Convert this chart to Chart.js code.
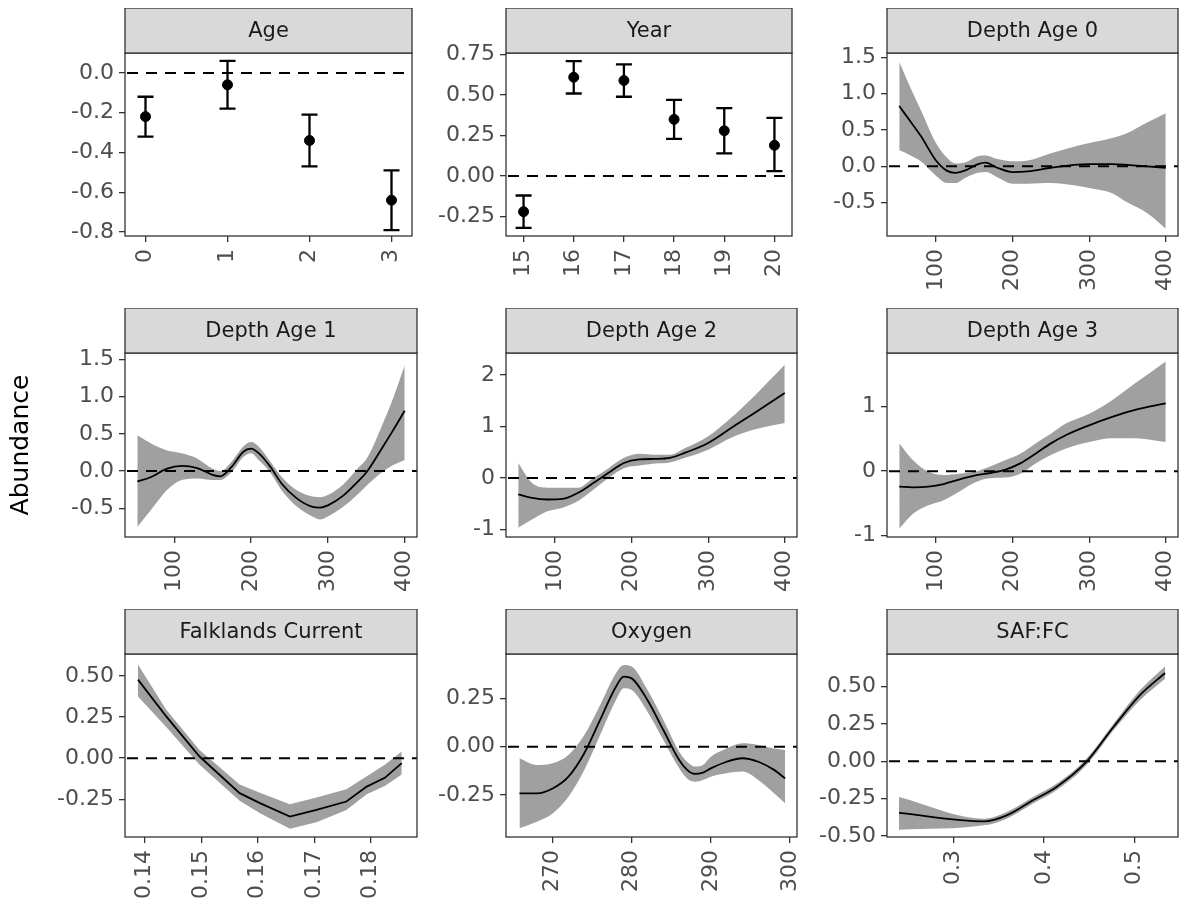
<!DOCTYPE html>
<html>
<head>
<meta charset="utf-8">
<script src="https://cdn.jsdelivr.net/npm/chart.js@4.4.1/dist/chart.umd.min.js"></script>
<style>
  body { margin: 0; background: #fff; width: 1179px; height: 906px; position: relative; overflow: hidden; }
  canvas { position: absolute; }
</style>
</head>
<body>
<script>
// ---- data ----
const ageX = [0, 1, 2, 3];
const ageEst = [-0.22, -0.06, -0.34, -0.64];
const ageLo = [-0.32, -0.18, -0.47, -0.79];
const ageHi = [-0.12, 0.06, -0.21, -0.49];

const yearX = [15, 16, 17, 18, 19, 20];
const yearEst = [-0.22, 0.61, 0.59, 0.35, 0.28, 0.19];
const yearLo = [-0.32, 0.51, 0.49, 0.23, 0.14, 0.03];
const yearHi = [-0.12, 0.71, 0.69, 0.47, 0.42, 0.36];

const depth0X = [52, 65, 80, 100, 114, 125, 140, 155, 165, 180, 200, 220, 250, 280, 300, 330, 350, 375, 400];
const depth0Fit = [0.83, 0.64, 0.42, 0.08, -0.06, -0.09, -0.05, 0.03, 0.05, -0.02, -0.08, -0.07, -0.02, 0.02, 0.03, 0.03, 0.02, 0.0, -0.02];
const depth0Hi = [1.44, 1.12, 0.78, 0.32, 0.12, 0.04, 0.06, 0.14, 0.15, 0.1, 0.07, 0.08, 0.18, 0.27, 0.32, 0.39, 0.46, 0.6, 0.73];
const depth0Lo = [0.22, 0.16, 0.07, -0.13, -0.23, -0.23, -0.15, -0.09, -0.08, -0.15, -0.24, -0.24, -0.23, -0.26, -0.3, -0.37, -0.5, -0.64, -0.86];

const depth1X = [52, 70, 90, 110, 130, 150, 160, 175, 190, 200, 210, 225, 240, 260, 280, 290, 300, 320, 340, 350, 370, 385, 400];
const depth1Fit = [-0.14, -0.08, 0.03, 0.07, 0.04, -0.05, -0.07, 0.06, 0.26, 0.3, 0.24, 0.06, -0.17, -0.37, -0.48, -0.49, -0.46, -0.33, -0.13, -0.02, 0.3, 0.55, 0.81];
const depth1Hi = [0.48, 0.37, 0.28, 0.24, 0.17, 0.03, 0.0, 0.13, 0.33, 0.39, 0.33, 0.13, -0.08, -0.26, -0.34, -0.35, -0.32, -0.18, 0.05, 0.16, 0.6, 0.98, 1.42];
const depth1Lo = [-0.75, -0.52, -0.26, -0.12, -0.1, -0.12, -0.12, -0.01, 0.19, 0.24, 0.15, -0.02, -0.26, -0.48, -0.61, -0.65, -0.61, -0.48, -0.3, -0.2, -0.02, 0.08, 0.15];

const depth2X = [52, 70, 90, 110, 130, 150, 170, 190, 210, 230, 250, 270, 300, 330, 360, 400];
const depth2Fit = [-0.32, -0.39, -0.42, -0.41, -0.29, -0.1, 0.1, 0.29, 0.36, 0.37, 0.39, 0.49, 0.68, 0.97, 1.26, 1.65];
const depth2Hi = [0.29, -0.1, -0.19, -0.19, -0.19, 0.0, 0.19, 0.39, 0.47, 0.45, 0.45, 0.58, 0.81, 1.17, 1.59, 2.2];
const depth2Lo = [-0.97, -0.81, -0.65, -0.58, -0.45, -0.23, 0.0, 0.19, 0.24, 0.28, 0.3, 0.39, 0.55, 0.78, 0.94, 1.07];

const depth3X = [52, 70, 90, 110, 130, 150, 170, 190, 210, 230, 250, 270, 300, 330, 360, 400];
const depth3Fit = [-0.24, -0.25, -0.24, -0.2, -0.13, -0.07, -0.03, 0.02, 0.12, 0.27, 0.43, 0.56, 0.71, 0.84, 0.95, 1.05];
const depth3Hi = [0.43, 0.17, -0.01, -0.06, -0.04, -0.01, 0.07, 0.17, 0.27, 0.43, 0.58, 0.74, 0.89, 1.1, 1.36, 1.7];
const depth3Lo = [-0.89, -0.66, -0.53, -0.45, -0.32, -0.18, -0.11, -0.1, -0.04, 0.12, 0.25, 0.35, 0.45, 0.51, 0.51, 0.45];

const fcX = [0.1388, 0.1438, 0.1497, 0.1568, 0.1604, 0.1657, 0.1704, 0.1757, 0.1793, 0.1825, 0.1855];
const fcFit = [0.478, 0.254, 0.01, -0.213, -0.274, -0.356, -0.315, -0.264, -0.173, -0.12, -0.03];
const fcHi = [0.57, 0.295, 0.05, -0.16, -0.21, -0.28, -0.24, -0.19, -0.11, -0.04, 0.04];
const fcLo = [0.376, 0.19, -0.04, -0.26, -0.335, -0.43, -0.39, -0.315, -0.22, -0.17, -0.1];

const oxyX = [265.8, 268, 270, 272, 274, 276, 278, 279, 280, 282, 284, 286, 287, 288, 289, 290, 292, 294, 296, 298, 299.4];
const oxyFit = [-0.241, -0.241, -0.216, -0.155, -0.034, 0.138, 0.31, 0.362, 0.353, 0.24, 0.086, -0.069, -0.12, -0.141, -0.134, -0.112, -0.078, -0.06, -0.078, -0.12, -0.164];
const oxyHi = [-0.06, -0.095, -0.086, -0.043, 0.06, 0.216, 0.38, 0.422, 0.414, 0.293, 0.138, -0.026, -0.078, -0.103, -0.095, -0.052, -0.009, 0.017, 0.009, -0.009, -0.017];
const oxyLo = [-0.422, -0.388, -0.345, -0.259, -0.121, 0.06, 0.24, 0.302, 0.293, 0.181, 0.034, -0.112, -0.164, -0.181, -0.172, -0.155, -0.138, -0.129, -0.172, -0.241, -0.293];

const safX = [0.24, 0.334, 0.359, 0.388, 0.414, 0.447, 0.477, 0.506, 0.534];
const safFit = [-0.346, -0.402, -0.362, -0.261, -0.172, -0.004, 0.23, 0.442, 0.592];
const safHi = [-0.239, -0.384, -0.339, -0.239, -0.15, 0.018, 0.252, 0.475, 0.636];
const safLo = [-0.458, -0.429, -0.384, -0.283, -0.194, -0.027, 0.208, 0.408, 0.554];

// tick labels
const ageXTicks = [0, 1, 2, 3];
const ageYTicks = [-0.8, -0.6, -0.4, -0.2, 0];
const yearXTicks = [15, 16, 17, 18, 19, 20];
const yearYTicks = [-0.25, 0, 0.25, 0.5, 0.75];
const depthXTicks = [100, 200, 300, 400];
const depth01YTicks = [-0.5, 0, 0.5, 1, 1.5];
const depth2YTicks = [-1, 0, 1, 2];
const depth3YTicks = [-1, 0, 1];
const fcXTicks = [0.14, 0.15, 0.16, 0.17, 0.18];
const fcYTicks = [-0.25, 0, 0.25, 0.5];
const oxyXTicks = [270, 280, 290, 300];
const oxyYTicks = [-0.25, 0, 0.25];
const safXTicks = [0.3, 0.4, 0.5];
const safYTicks = [-0.5, -0.25, 0, 0.25, 0.5];

const FONT = 'DejaVu Sans';
const TICK_COLOR = '#4d4d4d';
const BAND = '#a0a0a0';
const STRIP_H = 45;

// panel layout (pixel boxes of the plotting areas)
const plotLeft = [125, 506, 887];
const plotRight = [417, 797, 1178];
const plotTop = [53, 353, 654];
const plotBottom = [236, 537, 837];
const yAxisW = [125, 86, 86];
const xAxisH = [58, 58, 68];

const panels = [
  { title: 'Age', x: ageX, est: ageEst, lo: ageLo, hi: ageHi,
    xr: [-0.25, 3.25], yr: [-0.82, 0.10], xt: ageXTicks, xd: 0, yt: ageYTicks, yd: 1 },
  { title: 'Year', x: yearX, est: yearEst, lo: yearLo, hi: yearHi,
    xr: [14.65, 20.35], yr: [-0.37, 0.76], xt: yearXTicks, xd: 0, yt: yearYTicks, yd: 2 },
  { title: 'Depth Age 0', x: depth0X, fit: depth0Fit, lo: depth0Lo, hi: depth0Hi,
    xr: [36, 416], yr: [-0.96, 1.56], xt: depthXTicks, xd: 0, yt: depth01YTicks, yd: 1 },
  { title: 'Depth Age 1', x: depth1X, fit: depth1Fit, lo: depth1Lo, hi: depth1Hi,
    xr: [36, 416], yr: [-0.885, 1.585], xt: depthXTicks, xd: 0, yt: depth01YTicks, yd: 1, ytitle: 'Abundance' },
  { title: 'Depth Age 2', x: depth2X, fit: depth2Fit, lo: depth2Lo, hi: depth2Hi,
    xr: [36, 416], yr: [-1.15, 2.43], xt: depthXTicks, xd: 0, yt: depth2YTicks, yd: 0 },
  { title: 'Depth Age 3', x: depth3X, fit: depth3Fit, lo: depth3Lo, hi: depth3Hi,
    xr: [36, 416], yr: [-1.02, 1.83], xt: depthXTicks, xd: 0, yt: depth3YTicks, yd: 0 },
  { title: 'Falklands Current', x: fcX, fit: fcFit, lo: fcLo, hi: fcHi, linear: true,
    xr: [0.1365, 0.1882], yr: [-0.48, 0.634], xt: fcXTicks, xd: 2, yt: fcYTicks, yd: 2 },
  { title: 'Oxygen', x: oxyX, fit: oxyFit, lo: oxyLo, hi: oxyHi,
    xr: [264.1, 300.9], yr: [-0.467, 0.479], xt: oxyXTicks, xd: 0, yt: oxyYTicks, yd: 2 },
  { title: 'SAF:FC', x: safX, fit: safFit, lo: safLo, hi: safHi,
    xr: [0.2267, 0.5483], yr: [-0.507, 0.719], xt: safXTicks, xd: 1, yt: safYTicks, yd: 2 },
];

const pts = (xs, ys) => xs.map((x, i) => ({ x: x, y: ys[i] }));

function drawZero(chart) {
  const { ctx, chartArea: a, scales } = chart;
  const y0 = scales.y.getPixelForValue(0);
  ctx.save();
  ctx.beginPath();
  ctx.rect(a.left, a.top, a.right - a.left, a.bottom - a.top);
  ctx.clip();
  ctx.setLineDash([11, 8]);
  ctx.lineWidth = 2;
  ctx.strokeStyle = '#000';
  ctx.beginPath();
  ctx.moveTo(a.left + 2, y0);
  ctx.lineTo(a.right, y0);
  ctx.stroke();
  ctx.restore();
}

function facetPlugin(p) {
  return {
    id: 'facet',
    beforeDatasetsDraw(chart) {
      if (!p.est) return;
      const { ctx, scales } = chart;
      drawZero(chart);
      ctx.save();
      ctx.strokeStyle = '#000';
      ctx.lineWidth = 2.3;
      p.x.forEach((xv, i) => {
        const px = scales.x.getPixelForValue(xv);
        const top = scales.y.getPixelForValue(p.hi[i]);
        const bot = scales.y.getPixelForValue(p.lo[i]);
        ctx.beginPath();
        ctx.moveTo(px, top); ctx.lineTo(px, bot);
        ctx.moveTo(px - 8, top); ctx.lineTo(px + 8, top);
        ctx.moveTo(px - 8, bot); ctx.lineTo(px + 8, bot);
        ctx.stroke();
      });
      ctx.restore();
    },
    afterDatasetDraw(chart, args) {
      if (!p.est && args.index === 1) drawZero(chart);
    },
    afterDraw(chart) {
      const { ctx, chartArea: a } = chart;
      ctx.save();
      ctx.strokeStyle = '#333';
      ctx.lineWidth = 1.3;
      ctx.strokeRect(a.left, a.top, a.right - a.left, a.bottom - a.top);
      // facet strip
      const st = a.top - STRIP_H;
      ctx.fillStyle = '#d9d9d9';
      ctx.fillRect(a.left, st, a.right - a.left, STRIP_H);
      ctx.strokeRect(a.left, st, a.right - a.left, STRIP_H);
      ctx.fillStyle = '#1a1a1a';
      ctx.font = '21px "' + FONT + '"';
      ctx.textAlign = 'center';
      ctx.textBaseline = 'middle';
      ctx.fillText(p.title, (a.left + a.right) / 2, st + STRIP_H / 2 + 1);
      ctx.restore();
    }
  };
}

function axis(range, ticks, dec, extra) {
  return Object.assign({
    type: 'linear',
    min: range[0],
    max: range[1],
    afterBuildTicks: (s) => { s.ticks = ticks.map(v => ({ value: v })); },
    ticks: {
      autoSkip: false,
      color: TICK_COLOR,
      font: { family: FONT, size: 22 },
      padding: 5,
      callback: (v) => Number(v).toFixed(dec),
    },
    grid: { display: true, drawOnChartArea: false, drawTicks: true, tickLength: 6, color: '#333', lineWidth: 1.3 },
    border: { display: false },
  }, extra);
}

panels.forEach((p, k) => {
  const r = Math.floor(k / 3), c = k % 3;
  const plotW = plotRight[c] - plotLeft[c];
  const plotH = plotBottom[r] - plotTop[r];
  const W = yAxisW[c] + plotW + 1;
  const H = STRIP_H + plotH + xAxisH[r];
  const cv = document.createElement('canvas');
  cv.width = W; cv.height = H;
  cv.style.left = (plotLeft[c] - yAxisW[c]) + 'px';
  cv.style.top = (plotTop[r] - STRIP_H) + 'px';
  cv.style.width = W + 'px'; cv.style.height = H + 'px';
  document.body.appendChild(cv);

  let type, datasets;
  if (p.est) {
    type = 'scatter';
    datasets = [{
      data: pts(p.x, p.est),
      pointRadius: 5,
      pointBackgroundColor: '#000',
      pointBorderColor: '#000',
    }];
  } else {
    type = 'line';
    const curve = p.linear
      ? { tension: 0 }
      : { cubicInterpolationMode: 'monotone' };
    datasets = [
      Object.assign({ data: pts(p.x, p.fit), borderColor: '#000', borderWidth: 1.8, pointRadius: 0, fill: false }, curve),
      Object.assign({ data: pts(p.x, p.hi), borderWidth: 0, borderColor: 'rgba(0,0,0,0)', backgroundColor: BAND, pointRadius: 0, fill: '+1' }, curve),
      Object.assign({ data: pts(p.x, p.lo), borderWidth: 0, borderColor: 'rgba(0,0,0,0)', pointRadius: 0, fill: false }, curve),
    ];
  }

  const yTitle = p.ytitle
    ? { display: true, text: p.ytitle, color: '#000', font: { family: FONT, size: 25 }, padding: { top: 6, bottom: 0 } }
    : { display: false };

  new Chart(cv.getContext('2d'), {
    type: type,
    data: { datasets: datasets },
    options: {
      responsive: false,
      animation: false,
      devicePixelRatio: 1,
      layout: { padding: { top: STRIP_H, left: 0, right: 1, bottom: 0 } },
      plugins: { legend: { display: false }, tooltip: { enabled: false } },
      scales: {
        x: axis(p.xr, p.xt, p.xd, {
          position: 'bottom',
          afterFit: (s) => { s.height = xAxisH[r]; s.paddingLeft = 0; s.paddingRight = 0; },
          ticks: {
            autoSkip: false, color: TICK_COLOR, font: { family: FONT, size: 22 }, padding: 7,
            minRotation: 90, maxRotation: 90,
            callback: (v) => Number(v).toFixed(p.xd),
          },
        }),
        y: axis(p.yr, p.yt, p.yd, {
          position: 'left',
          title: yTitle,
          afterFit: (s) => { s.width = yAxisW[c]; s.paddingTop = 0; s.paddingBottom = 0; },
        }),
      },
    },
    plugins: [facetPlugin(p)],
  });
});
</script>
</body>
</html>
